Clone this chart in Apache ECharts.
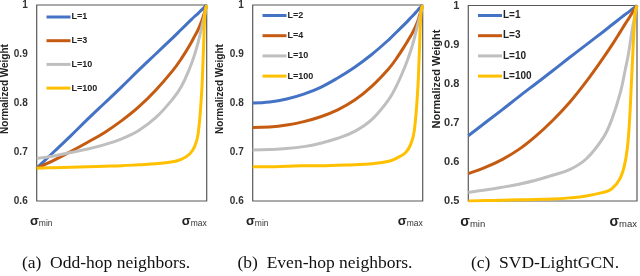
<!DOCTYPE html>
<html><head><meta charset="utf-8">
<script src="https://cdn.jsdelivr.net/npm/echarts@6/dist/echarts.min.js"></script>
<style>html,body{margin:0;padding:0;background:#fff}#c{width:640px;height:276px}</style>
</head><body><div id="c"></div>
<script>
// positions along sigma (0 = sigma_min, 1 = sigma_max)
var sigmaPos = [0, 0.1, 0.2, 0.3, 0.4, 0.5, 0.6, 0.7, 0.8, 0.85, 0.9, 0.93, 0.95, 0.97, 0.98, 0.99, 1];
var yTicksAB = [0.6, 0.7, 0.8, 0.9, 1];
var yTicksC = [0.5, 0.6, 0.7, 0.8, 0.9, 1];
var captions = ['(a)  Odd-hop neighbors.', '(b)  Even-hop neighbors.', '(c)  SVD-LightGCN.'];
var yName = 'Normalized Weight';

// (a) odd-hop
var namesA = ['L=1', 'L=3', 'L=10', 'L=100'];
var a_L1   = [0.667,0.700,0.733,0.767,0.800,0.833,0.867,0.900,0.933,0.950,0.967,0.977,0.983,0.990,0.993,0.997,1];
var a_L3   = [0.667,0.683,0.701,0.720,0.740,0.764,0.792,0.826,0.866,0.890,0.918,0.937,0.950,0.967,0.977,0.988,1];
var a_L10  = [0.687,0.692,0.699,0.706,0.715,0.727,0.744,0.770,0.808,0.833,0.871,0.900,0.924,0.953,0.968,0.984,1];
var a_L100 = [0.667,0.668,0.669,0.670,0.671,0.672,0.674,0.676,0.680,0.685,0.696,0.712,0.738,0.820,0.900,0.985,1];

// (b) even-hop
var namesB = ['L=2', 'L=4', 'L=10', 'L=100'];
var b_L2   = [0.800,0.802,0.808,0.818,0.832,0.851,0.873,0.899,0.929,0.946,0.963,0.974,0.981,0.989,0.993,0.996,1];
var b_L4   = [0.750,0.751,0.755,0.762,0.772,0.786,0.806,0.834,0.870,0.893,0.920,0.937,0.950,0.966,0.977,0.988,1];
var b_L10  = [0.704,0.705,0.707,0.711,0.718,0.728,0.742,0.766,0.807,0.838,0.878,0.907,0.931,0.959,0.972,0.986,1];
var b_L100 = [0.670,0.670,0.671,0.672,0.672,0.673,0.674,0.676,0.681,0.688,0.699,0.716,0.742,0.822,0.900,0.985,1];

// (c) SVD-LightGCN
var namesC = ['L=1', 'L=3', 'L=10', 'L=100'];
var c_L1   = [0.667,0.700,0.733,0.767,0.800,0.833,0.867,0.900,0.933,0.950,0.967,0.977,0.983,0.990,0.993,0.997,1];
var c_L3   = [0.570,0.586,0.606,0.632,0.666,0.706,0.752,0.806,0.866,0.898,0.932,0.953,0.966,0.980,0.987,0.993,1];
var c_L10  = [0.522,0.528,0.535,0.543,0.553,0.566,0.580,0.608,0.662,0.708,0.775,0.835,0.878,0.935,0.958,0.980,1];
var c_L100 = [0.500,0.501,0.502,0.503,0.504,0.505,0.508,0.513,0.522,0.531,0.558,0.600,0.668,0.830,0.920,0.985,1];

var colors = ['#4472C4', '#C55A11', '#BFBFBF', '#FFC000'];

function pairs(vals) { return sigmaPos.map(function (x, i) { return [x, vals[i]]; }); }

var panels = [
  {names: namesA, data: [a_L1, a_L3, a_L10, a_L100], ticks: yTicksAB, left: 36.7, fs: 10, legTop: 11, legLeft: 46.5, legGap: 11.7, nameX: 5, nameY: 89, capX: 106},
  {names: namesB, data: [b_L2, b_L4, b_L10, b_L100], ticks: yTicksAB, left: 252.7, fs: 10, legTop: 9.5, legLeft: 262.5, legGap: 8.2, nameX: 220, nameY: 89, capX: 325},
  {names: namesC, data: [c_L1, c_L3, c_L10, c_L100], ticks: yTicksC, left: 468.3, fs: 11, legTop: 9.5, legLeft: 478, legGap: 8.2, nameX: 437, nameY: 79, capX: 545}
];

var grids = [], xAxes = [], yAxes = [], series = [], legends = [], graphics = [];
panels.forEach(function (p, k) {
  grids.push({left: p.left, top: 4.5, width: 170, height: 196.5, show: true, borderColor: '#595959', borderWidth: 1.2, backgroundColor: 'transparent'});
  xAxes.push({
    type: 'value', gridIndex: k, min: 0, max: 1, interval: 1,
    axisLine: {show: false}, axisTick: {show: false}, splitLine: {show: false},
    axisLabel: {
      margin: 14, alignMinLabel: 'center', alignMaxLabel: 'right',
      formatter: function (v) { return v === 0 ? '{p|}{s|σ}{m|min}' : '{s|σ}{m|max}'; },
      rich: {
        p: {width: 9},
        s: {fontSize: p.fs + 3, fontWeight: 'bold', fontFamily: 'Liberation Sans', color: '#222', verticalAlign: 'bottom'},
        m: {fontSize: p.fs - 1.5, fontFamily: 'Liberation Sans', color: '#333', verticalAlign: 'bottom'}
      }
    }
  });
  var mn = p.ticks[0], mx = p.ticks[p.ticks.length - 1];
  yAxes.push({
    type: 'value', gridIndex: k, min: mn, max: mx, interval: 0.1,
    axisLine: {show: false}, axisTick: {show: false}, splitLine: {show: false},
    axisLabel: {margin: 9, fontSize: p.fs, fontWeight: 'bold', fontFamily: 'Liberation Sans', color: '#333',
      formatter: function (v) { return String(Math.round(v * 10) / 10); }}
  });
  var legData = [];
  p.names.forEach(function (nm, i) {
    series.push({
      name: nm, type: 'line', xAxisIndex: k, yAxisIndex: k,
      data: pairs(p.data[i]), smooth: 0.4, showSymbol: false, symbol: 'none',
      lineStyle: {width: 3, color: colors[i]}, itemStyle: {color: colors[i]}, z: 2 + i, silent: true
    });
    legData.push(nm);
  });
  legends.push({
    data: legData, orient: 'vertical', left: p.legLeft, top: p.legTop, itemGap: p.legGap,
    icon: 'rect', itemWidth: 24, itemHeight: 3, padding: 0,
    textStyle: {fontSize: p.fs - 1, fontWeight: 'bold', fontFamily: 'Liberation Sans', color: '#222', lineHeight: 12, padding: [0, 0, 0, -4]}
  });
  graphics.push({type: 'text', x: p.nameX, y: p.nameY, rotation: Math.PI / 2,
    style: {text: yName, fill: '#222', font: 'bold ' + p.fs + 'px "Liberation Sans"', textAlign: 'center', textVerticalAlign: 'middle'}});
  graphics.push({type: 'text', x: p.capX, y: 263,
    style: {text: captions[k], fill: '#111', font: '17.5px "Liberation Serif"', textAlign: 'center', textVerticalAlign: 'middle'}});
});

var chart = echarts.init(document.getElementById('c'), null, {renderer: 'canvas'});
chart.setOption({
  animation: false,
  color: colors,
  grid: grids, xAxis: xAxes, yAxis: yAxes, series: series, legend: legends, graphic: graphics
});
</script></body></html>
